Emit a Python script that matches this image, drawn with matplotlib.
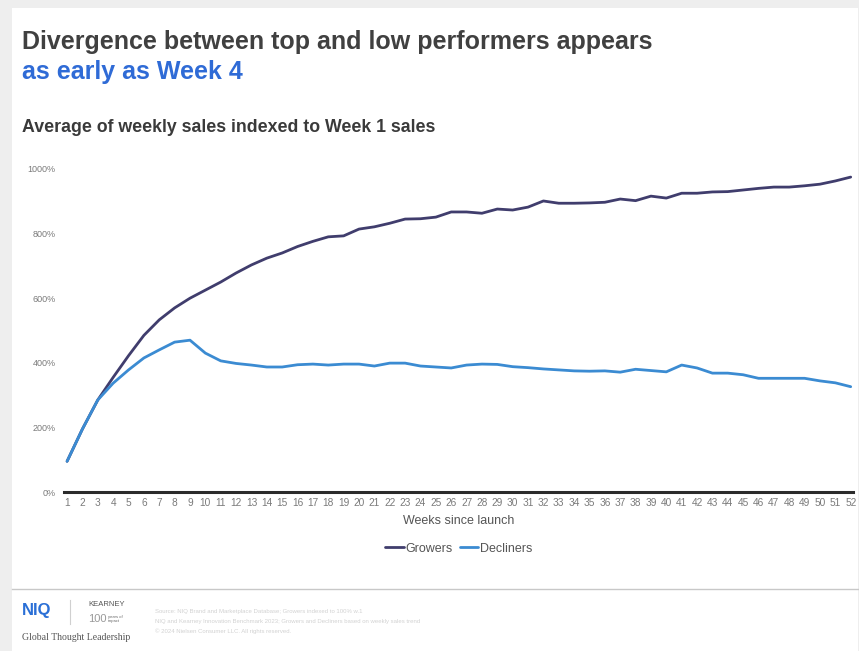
import matplotlib
matplotlib.use("Agg")
import matplotlib.pyplot as plt
from matplotlib.patches import Rectangle
from matplotlib.lines import Line2D

plt.rcParams['font.family'] = ['Liberation Sans', 'DejaVu Sans']

weeks = list(range(1, 53))
growers = [95, 195, 285, 355, 422, 485, 533, 570, 600, 625,
           650, 678, 703, 724, 740, 760, 776, 790, 793, 814,
           821, 832, 845, 846, 851, 867, 867, 863, 876, 873,
           882, 901, 894, 894, 895, 897, 907, 902, 916, 910,
           925, 925, 929, 930, 935, 940, 944, 944, 948, 953,
           963, 975]
decliners = [95, 195, 285, 337, 378, 415, 440, 464, 470, 430,
             406, 398, 393, 387, 387, 394, 396, 393, 396, 396,
             390, 399, 399, 390, 387, 384, 393, 396, 395, 388,
             385, 381, 378, 375, 374, 375, 371, 380, 376, 372,
             393, 384, 368, 368, 363, 352, 352, 352, 352, 344,
             338, 326]
y_ticks = [0, 200, 400, 600, 800, 1000]
y_tick_labels = ['0%', '200%', '400%', '600%', '800%', '1000%']

W, H = 859, 651
fig = plt.figure(figsize=(W / 100, H / 100), dpi=100, facecolor='#eeeeee')

# white slide area
fig.patches.append(Rectangle((12 / W, 0), (W - 13) / W, (H - 8) / H,
                             transform=fig.transFigure, facecolor='white',
                             edgecolor='none', zorder=-10))
# footer separator
fig.add_artist(Line2D([12 / W, 858 / W], [1 - 589 / H, 1 - 589 / H],
                      transform=fig.transFigure, color='#c8c8c8', lw=1.0))

ax = fig.add_axes([64 / W, 1 - 492 / H, (853 - 64) / W, (492 - 169) / H])
ax.set_zorder(5)
ax.set_facecolor('none')

ax.plot(weeks, growers, color='#403d6d', lw=2.0, label='Growers', solid_capstyle='round')
ax.plot(weeks, decliners, color='#3b8bd2', lw=2.0, label='Decliners', solid_capstyle='round')

ax.set_xlim(0.8, 52.15)
ax.set_ylim(0, 1000)
ax.set_yticks(y_ticks)
ax.set_yticklabels(y_tick_labels)
ax.set_xticks(weeks)
ax.set_xticklabels([str(w) for w in weeks])
ax.tick_params(axis='y', length=0, labelsize=6.5, labelcolor='#7a7a7a', pad=6)
ax.tick_params(axis='x', length=0, labelsize=7.3, labelcolor='#7a7a7a', pad=4)
for s in ['top', 'right', 'left']:
    ax.spines[s].set_visible(False)
ax.spines['bottom'].set_color('#2b2b2b')
ax.spines['bottom'].set_linewidth(2.2)

ax.set_xlabel('Weeks since launch', fontsize=9, color='#555555', labelpad=5)

ax.legend(loc='upper center', bbox_to_anchor=(0.5, -0.122), ncol=2, frameon=False,
          fontsize=9, labelcolor='#555555', handlelength=1.5, handletextpad=0.1,
          columnspacing=0.6)

# titles
fig.text(22 / W, 1 - 42 / H, 'Divergence between top and low performers appears',
         fontsize=18, fontweight='bold', color='#404040', va='center', ha='left')
fig.text(22 / W, 1 - 72 / H, 'as early as Week 4',
         fontsize=18, fontweight='bold', color='#2f6bd6', va='center', ha='left')
fig.text(22 / W, 1 - 128 / H, 'Average of weekly sales indexed to Week 1 sales',
         fontsize=12.8, fontweight='bold', color='#3a3a3a', va='center', ha='left')

# footer
fig.text(22 / W, 1 - 611 / H, 'NIQ', fontsize=12, fontweight='bold', color='#2a6fd6',
         va='center', ha='left')
fig.add_artist(Line2D([70 / W, 70 / W], [1 - 600 / H, 1 - 624 / H],
                      transform=fig.transFigure, color='#d0d0d0', lw=0.8))
fig.text(88 / W, 1 - 605 / H, 'KEARNEY', fontsize=5.5, color='#555555', va='center', ha='left')
fig.text(88 / W, 1 - 619 / H, '100', fontsize=8, color='#999999', va='center', ha='left')
fig.text(108 / W, 1 - 619 / H, 'years of\nimpact', fontsize=3, color='#666666',
         va='center', ha='left', linespacing=1.0)
fig.text(22 / W, 1 - 638 / H, 'Global Thought Leadership', fontsize=7,
         family=['Liberation Serif', 'DejaVu Serif'], color='#555555', va='center', ha='left')
fig.text(155 / W, 1 - 611 / H, 'Source: NIQ Brand and Marketplace Database; Growers indexed to 100% w.1',
         fontsize=4.3, color='#d2d2d2', va='center', ha='left')
fig.text(155 / W, 1 - 621 / H, 'NIQ and Kearney Innovation Benchmark 2023; Growers and Decliners based on weekly sales trend',
         fontsize=4.3, color='#d2d2d2', va='center', ha='left')
fig.text(155 / W, 1 - 631 / H, '\u00a9 2024 Nielsen Consumer LLC. All rights reserved.',
         fontsize=4.3, color='#d2d2d2', va='center', ha='left')

fig.savefig('out.png', dpi=100, facecolor=fig.get_facecolor())
